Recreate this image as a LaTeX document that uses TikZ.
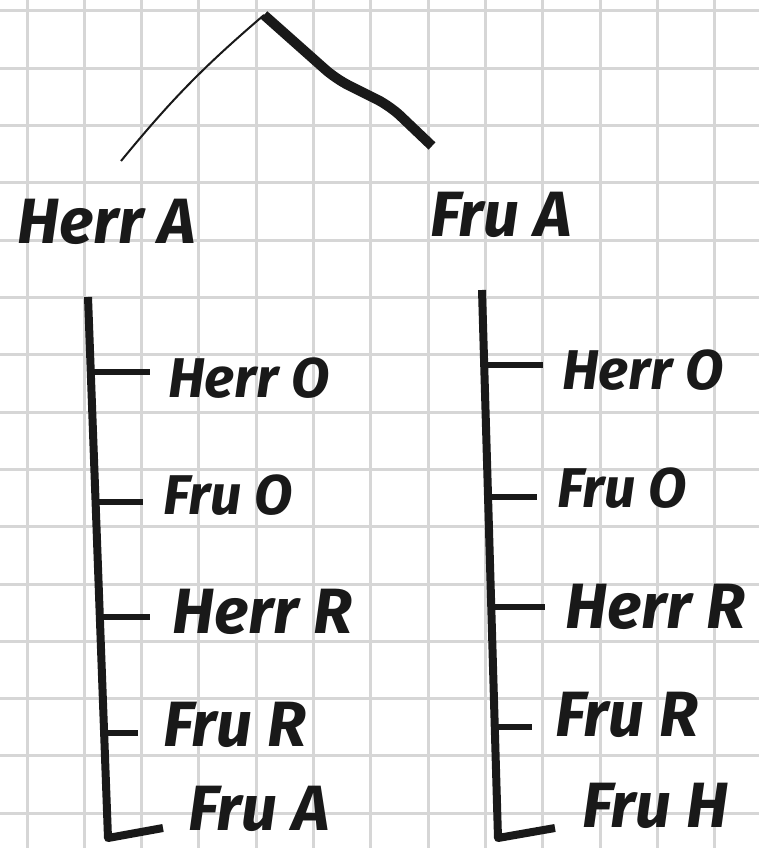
\documentclass[tikz,border=0pt]{standalone}
\usepackage{fontspec}
\setmainfont{Fira Sans}
\usetikzlibrary{calc}
\begin{document}
\begin{tikzpicture}[
    x=1pt,y=-1pt,
    namn/.style={anchor=west,inner sep=0pt,text=black!90,
                 font=\fontsize{64}{68}\selectfont\bfseries\itshape},
    namnsmal/.style={namn,font=\fontsize{56}{60}\selectfont\bfseries\itshape},
    rutnat/.style={line width=3pt,black!16},
    stam/.style={line width=8pt,black!90,line join=round},
    gren/.style={line width=6pt,black!90},
    tunn/.style={line width=2pt,black!90},
    tjock/.style={line width=10pt,black!90,line join=round}]

  \useasboundingbox (0,0) rectangle (759,848);
  \fill[white] (0,0) rectangle (759,848);

  % ---- rutpapper -------------------------------------------------------------
  \foreach \i in {0,...,12} \draw[rutnat] ({27+57.3*\i},0) -- ({27+57.3*\i},848);
  \foreach \j in {0,...,14} \draw[rutnat] (0,{11+57.3*\j}) -- (759,{11+57.3*\j});

  % ---- paret och taket -------------------------------------------------------
  \coordinate (topp) at (264,15);
  \node[namn] (herrA) at (17,222) {Herr A};
  \node[namn] (fruA)  at (430,215) {Fru A};
  \coordinate (vtak) at (121,161);
  \coordinate (htak) at (432,146);
  \draw[tunn] (topp) to[bend right=5] (vtak);
  \draw[tjock,rounded corners=14pt] (topp) -- (336,79) -- (390,106) -- (htak);

  % ---- vänster gren: Herr A -------------------------------------------------
  \coordinate (vtopp) at (88,297);
  \coordinate (vhorn) at (108,838);
  \node[namnsmal] (vherrO) at (168,378) {Herr O};
  \node[namnsmal] (vfruO)  at (163,495) {Fru O};
  \node[namn] (vherrR) at (172,612) {Herr R};
  \node[namn] (vfruR)  at (163,725) {Fru R};
  \node[namn] (vfruA)  at (188,809) {Fru A};
  \draw[stam] (vtopp) -- (vhorn) -- ([xshift=-25pt,yshift=10pt]vhorn -| vfruA.west);
  \coordinate (v1) at ($(vtopp)!0.139!(vhorn)$);
  \coordinate (v2) at ($(vtopp)!0.379!(vhorn)$);
  \coordinate (v3) at ($(vtopp)!0.591!(vhorn)$);
  \coordinate (v4) at ($(vtopp)!0.806!(vhorn)$);
  \draw[gren] (v1) -- ([xshift=-18pt]v1 -| vherrO.west);
  \draw[gren] (v2) -- ([xshift=-20pt]v2 -| vfruO.west);
  \draw[gren] (v3) -- ([xshift=-22pt]v3 -| vherrR.west);
  \draw[gren] (v4) -- ([xshift=-25pt]v4 -| vfruR.west);

  % ---- höger gren: Fru A -----------------------------------------------------
  \coordinate (htopp) at (482,290);
  \coordinate (hhorn) at (498,838);
  \node[namnsmal] (hherrO) at (562,370) {Herr O};
  \node[namnsmal] (hfruO)  at (557,488) {Fru O};
  \node[namn] (hherrR) at (565,607) {Herr R};
  \node[namn] (hfruR)  at (555,715) {Fru R};
  \node[namn] (hfruH)  at (582,806) {Fru H};
  \draw[stam] (htopp) -- (hhorn) -- ([xshift=-27pt,yshift=10pt]hhorn -| hfruH.west);
  \coordinate (h1) at ($(htopp)!0.137!(hhorn)$);
  \coordinate (h2) at ($(htopp)!0.378!(hhorn)$);
  \coordinate (h3) at ($(htopp)!0.578!(hhorn)$);
  \coordinate (h4) at ($(htopp)!0.797!(hhorn)$);
  \draw[gren] (h1) -- ([xshift=-19pt]h1 -| hherrO.west);
  \draw[gren] (h2) -- ([xshift=-20pt]h2 -| hfruO.west);
  \draw[gren] (h3) -- ([xshift=-20pt]h3 -| hherrR.west);
  \draw[gren] (h4) -- ([xshift=-23pt]h4 -| hfruR.west);

\end{tikzpicture}
\end{document}
